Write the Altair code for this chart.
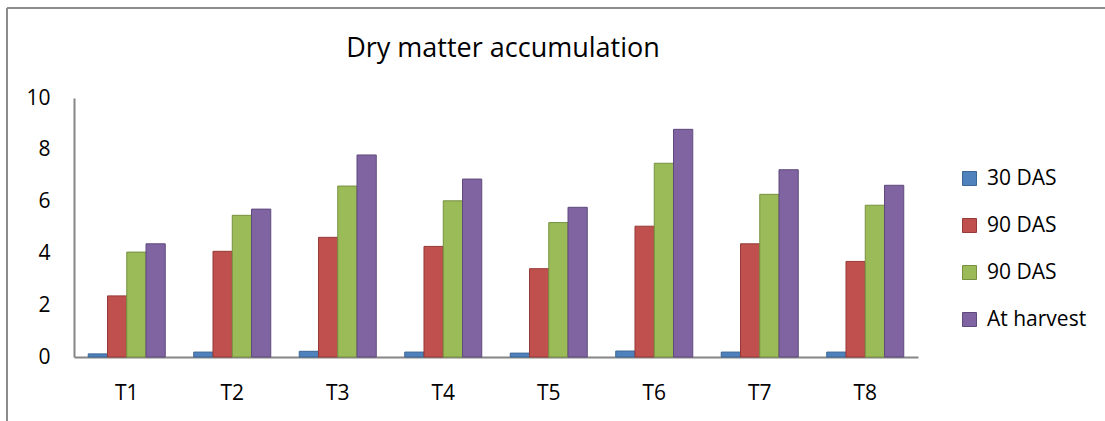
import altair as alt
import pandas as pd

# Treatments on the x axis
treatments = ["T1", "T2", "T3", "T4", "T5", "T6", "T7", "T8"]

# Series keys (internal) and the labels shown in the legend
series_keys = ["das30", "das90a", "das90b", "harvest"]
series_labels = ["30 DAS", "90 DAS", "90 DAS", "At harvest"]

# Dry matter values per treatment
das30 = [0.12, 0.19, 0.22, 0.19, 0.15, 0.23, 0.19, 0.19]
das90_a = [2.36, 4.08, 4.62, 4.27, 3.41, 5.05, 4.37, 3.69]
das90_b = [4.05, 5.47, 6.60, 6.03, 5.19, 7.48, 6.28, 5.86]
at_harvest = [4.37, 5.71, 7.80, 6.87, 5.78, 8.79, 7.23, 6.63]

y_ticks = [0, 2, 4, 6, 8, 10]
chart_title = "Dry matter accumulation"

fill_colors = ["#4F81BD", "#C0504D", "#9BBB59", "#8064A2"]
edge_colors = ["#3A6595", "#943A38", "#76903F", "#5E4A7C"]

rows = []
for key, vals in zip(series_keys, [das30, das90_a, das90_b, at_harvest]):
    for t, v in zip(treatments, vals):
        rows.append({"treatment": t, "series": key, "value": v})
df = pd.DataFrame(rows)

# legend label lookup: key -> displayed label
label_expr = "''"
for key, lab in reversed(list(zip(series_keys, series_labels))):
    label_expr = f"datum.value == '{key}' ? '{lab}' : ({label_expr})"

FONT = "Open Sans"
AXIS_GRAY = "#868686"

bars = alt.Chart(df).mark_bar(strokeWidth=1).encode(
    x=alt.X(
        "treatment:N",
        sort=treatments,
        scale=alt.Scale(paddingInner=0.27, paddingOuter=0.135),
        axis=alt.Axis(
            title=None, labelAngle=0, ticks=False, domainColor=AXIS_GRAY,
            domainWidth=2, labelFontSize=21, labelFont=FONT,
            labelColor="black", labelPadding=25,
        ),
    ),
    xOffset=alt.XOffset(
        "series:N", sort=series_keys,
        scale=alt.Scale(paddingInner=0, paddingOuter=0),
    ),
    y=alt.Y(
        "value:Q",
        scale=alt.Scale(domain=[0, 10]),
        axis=alt.Axis(
            title=None, values=y_ticks, grid=False, ticks=False,
            domainColor=AXIS_GRAY, domainWidth=2, labelFontSize=21,
            labelFont=FONT, labelColor="black", labelPadding=24,
        ),
    ),
    color=alt.Color(
        "series:N",
        sort=series_keys,
        scale=alt.Scale(domain=series_keys, range=fill_colors),
        legend=alt.Legend(
            title=None, orient="none", legendX=885, legendY=70,
            labelExpr=label_expr, labelFont=FONT, labelFontSize=21,
            labelColor="black", symbolType="square", symbolSize=196,
            symbolStrokeWidth=1, rowPadding=25, labelOffset=7,
        ),
    ),
    stroke=alt.Stroke(
        "series:N",
        sort=series_keys,
        scale=alt.Scale(domain=series_keys, range=edge_colors),
        legend=None,
    ),
)

one = pd.DataFrame({"k": [0]})

# Chart heading, centred over the plot area
heading = alt.Chart(one).mark_text(
    text=chart_title, font=FONT, fontSize=27, color="black",
    align="center", baseline="alphabetic",
).encode(x=alt.value(429), y=alt.value(-41))

# Outer frame lines (top and left edges of the figure box)
frame_left = alt.Chart(one).mark_rule(color="#8C8C8C", strokeWidth=2).encode(
    x=alt.value(-67), y=alt.value(-90), y2=alt.value(400)
)
frame_top = alt.Chart(one).mark_rule(color="#8C8C8C", strokeWidth=2).encode(
    x=alt.value(-67), x2=alt.value(1100), y=alt.value(-90)
)

chart = alt.layer(frame_left, frame_top, heading, bars).properties(
    width=844,
    height=259,
    autosize=alt.AutoSizeParams(type="none"),
    padding={"left": 74, "top": 98, "right": 187, "bottom": 64},
    background="white",
).configure_view(stroke=None)

chart.save("out.html", embed_options={"renderer": "svg", "actions": False})
